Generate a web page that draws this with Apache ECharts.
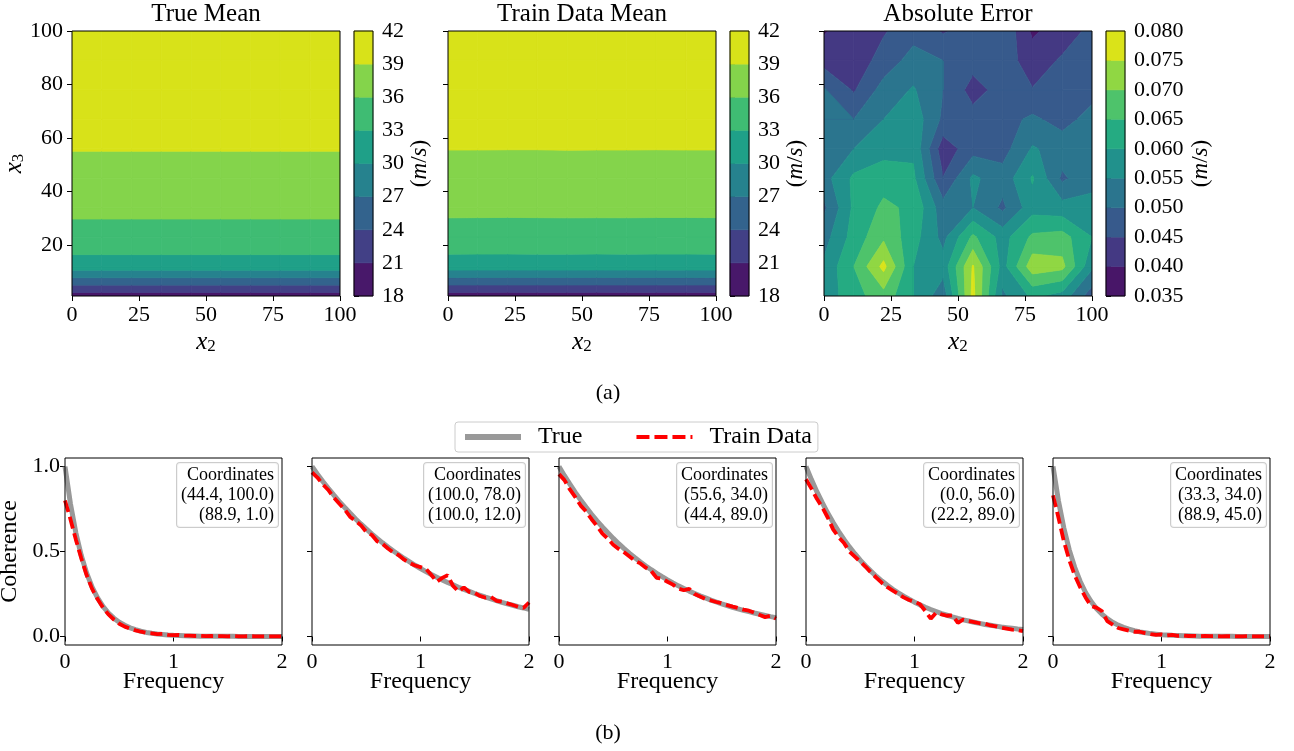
<!DOCTYPE html>
<html>
<head>
<meta charset="utf-8">
<script src="https://cdn.jsdelivr.net/npm/echarts@6/dist/echarts.min.js"></script>
<style>
  html, body { margin: 0; padding: 0; background: #ffffff; }
  #chart { width: 1294px; height: 751px; }
</style>
</head>
<body>
<div id="chart"></div>
<script>
// ---------- grid nodes of the wind field (x2 across, x3 up) ----------
const x2Nodes = [0, 11.11, 22.22, 33.33, 44.44, 55.56, 66.67, 77.78, 88.89, 100];
const x3Nodes = [1, 12, 23, 34, 45, 56, 67, 78, 89, 100];

// true mean wind speed (m/s) at each height, identical across x2
const trueMeanProfile = [19.6, 31.5, 35.2, 36.5, 37.9, 39.1, 39.8, 40.4, 40.9, 41.4];

// mean of the training data, rows = x3 nodes (bottom to top), cols = x2 nodes
const trainMeanGrid = [
  [19.55, 19.54, 19.53, 19.54, 19.55, 19.52, 19.55, 19.54, 19.54, 19.55],
  [31.44, 31.43, 31.42, 31.44, 31.44, 31.42, 31.44, 31.43, 31.43, 31.44],
  [35.15, 35.14, 35.13, 35.14, 35.15, 35.13, 35.14, 35.13, 35.13, 35.14],
  [36.45, 36.44, 36.43, 36.44, 36.45, 36.45, 36.45, 36.44, 36.44, 36.44],
  [37.85, 37.84, 37.84, 37.84, 37.85, 37.84, 37.85, 37.84, 37.85, 37.85],
  [39.05, 39.05, 39.04, 39.04, 39.06, 39.05, 39.05, 39.04, 39.05, 39.05],
  [39.75, 39.75, 39.74, 39.74, 39.75, 39.75, 39.75, 39.74, 39.75, 39.75],
  [40.35, 40.36, 40.35, 40.35, 40.35, 40.36, 40.35, 40.36, 40.35, 40.35],
  [40.86, 40.86, 40.85, 40.85, 40.85, 40.85, 40.85, 40.86, 40.85, 40.85],
  [41.36, 41.36, 41.36, 41.35, 41.36, 41.35, 41.35, 41.36, 41.36, 41.35]
];

// absolute error of the mean (m/s), rows = x3 nodes (bottom to top)
const absErrorGrid = [
  [0.057, 0.063, 0.068, 0.060, 0.052, 0.0765, 0.054, 0.061, 0.058, 0.047],
  [0.056, 0.065, 0.0765, 0.060, 0.057, 0.0755, 0.058, 0.073, 0.0715, 0.056],
  [0.053, 0.062, 0.069, 0.062, 0.0535, 0.066, 0.058, 0.066, 0.067, 0.060],
  [0.049, 0.061, 0.066, 0.064, 0.052, 0.055, 0.049, 0.058, 0.057, 0.056],
  [0.053, 0.061, 0.063, 0.061, 0.0452, 0.056, 0.052, 0.0605, 0.049, 0.054],
  [0.052, 0.055, 0.058, 0.059, 0.042, 0.048, 0.048, 0.0555, 0.053, 0.052],
  [0.050, 0.050, 0.055, 0.058, 0.049, 0.047, 0.048, 0.051, 0.048, 0.052],
  [0.0505, 0.0445, 0.052, 0.0555, 0.050, 0.043, 0.047, 0.0452, 0.048, 0.048],
  [0.043, 0.042, 0.047, 0.052, 0.050, 0.047, 0.047, 0.043, 0.0455, 0.047],
  [0.0395, 0.043, 0.0445, 0.048, 0.0445, 0.047, 0.0495, 0.039, 0.043, 0.046]
];

// contour levels, band colours (viridis) and tick labels
const meanLevels = [18, 21, 24, 27, 30, 33, 36, 39, 42];
const errorLevels = [0.035, 0.040, 0.045, 0.050, 0.055, 0.060, 0.065, 0.070, 0.075, 0.080];
const meanColors = ['#48186a', '#424086', '#33638d', '#26828e', '#1fa088', '#3fbc73', '#84d44b', '#d8e219'];
const errorColors = ['#481668', '#443983', '#375a8c', '#2b758e', '#21918c', '#25ab82', '#4ec36b', '#90d743', '#dae319'];
const x2Ticks = [0, 25, 50, 75, 100];
const x3Ticks = [20, 40, 60, 80, 100];
const mapTitles = ['True Mean', 'Train Data Mean', 'Absolute Error'];

// ---------- coherence vs frequency ----------
const freq = [0, 0.05, 0.1, 0.15, 0.2, 0.25, 0.3, 0.35, 0.4, 0.45, 0.5, 0.55, 0.6, 0.65, 0.7, 0.75, 0.8, 0.85, 0.9, 0.95,
  1.0, 1.05, 1.1, 1.15, 1.2, 1.25, 1.3, 1.35, 1.4, 1.45, 1.5, 1.55, 1.6, 1.65, 1.7, 1.75, 1.8, 1.85, 1.9, 1.95, 2.0];
const freqTicks = [0, 1, 2];
const cohTicks = [0, 0.5, 1.0];

const trueCoh1 = [1.000, 0.781, 0.610, 0.476, 0.372, 0.290, 0.227, 0.177, 0.138, 0.108, 0.084, 0.066, 0.051, 0.040, 0.031, 0.024, 0.019, 0.015, 0.012, 0.009,
  0.007, 0.006, 0.004, 0.003, 0.003, 0.002, 0.002, 0.001, 0.001, 0.001, 0.001, 0.001, 0, 0, 0, 0, 0, 0, 0, 0, 0];
const trainCoh1 = [0.80, 0.69, 0.57, 0.46, 0.36, 0.28, 0.22, 0.17, 0.13, 0.10, 0.075, 0.058, 0.046, 0.036, 0.028, 0.022, 0.019, 0.014, 0.016, 0.010,
  0.008, 0.009, 0.006, 0.005, 0.003, 0.004, 0.002, 0.003, 0.002, 0.002, 0.001, 0.002, 0.001, 0.001, 0.002, 0.001, 0.001, 0.001, 0.001, 0.001, 0.001];

const trueCoh2 = [1.000, 0.955, 0.912, 0.872, 0.833, 0.795, 0.760, 0.726, 0.693, 0.662, 0.633, 0.604, 0.577, 0.551, 0.527, 0.503, 0.481, 0.459, 0.439, 0.419,
  0.400, 0.382, 0.365, 0.349, 0.333, 0.318, 0.304, 0.290, 0.277, 0.265, 0.253, 0.242, 0.231, 0.221, 0.211, 0.201, 0.192, 0.184, 0.175, 0.168, 0.160];
const trainCoh2 = [0.965, 0.935, 0.895, 0.862, 0.818, 0.782, 0.748, 0.705, 0.680, 0.655, 0.615, 0.598, 0.560, 0.545, 0.518, 0.494, 0.478, 0.452, 0.432, 0.418,
  0.408, 0.398, 0.362, 0.322, 0.345, 0.360, 0.298, 0.265, 0.288, 0.262, 0.256, 0.238, 0.228, 0.233, 0.210, 0.205, 0.195, 0.185, 0.175, 0.168, 0.200];

const trueCoh3 = [1.000, 0.946, 0.896, 0.848, 0.803, 0.760, 0.719, 0.680, 0.644, 0.610, 0.577, 0.546, 0.517, 0.489, 0.463, 0.438, 0.415, 0.393, 0.372, 0.352,
  0.333, 0.315, 0.298, 0.282, 0.267, 0.253, 0.239, 0.227, 0.214, 0.203, 0.192, 0.182, 0.172, 0.163, 0.154, 0.146, 0.138, 0.131, 0.124, 0.117, 0.111];
const trainCoh3 = [0.955, 0.920, 0.865, 0.820, 0.770, 0.735, 0.690, 0.650, 0.605, 0.575, 0.540, 0.515, 0.495, 0.470, 0.445, 0.430, 0.405, 0.385, 0.345, 0.340,
  0.322, 0.305, 0.282, 0.272, 0.280, 0.250, 0.235, 0.220, 0.212, 0.203, 0.196, 0.185, 0.176, 0.168, 0.158, 0.152, 0.140, 0.127, 0.114, 0.122, 0.105];

const trueCoh4 = [1.000, 0.923, 0.852, 0.787, 0.726, 0.670, 0.619, 0.571, 0.527, 0.487, 0.449, 0.415, 0.383, 0.353, 0.326, 0.301, 0.278, 0.257, 0.237, 0.219,
  0.202, 0.186, 0.172, 0.159, 0.147, 0.135, 0.125, 0.115, 0.106, 0.098, 0.091, 0.084, 0.077, 0.071, 0.066, 0.061, 0.056, 0.052, 0.048, 0.044, 0.041];
const trainCoh4 = [0.925, 0.870, 0.810, 0.760, 0.700, 0.630, 0.585, 0.550, 0.500, 0.470, 0.440, 0.410, 0.375, 0.345, 0.315, 0.290, 0.270, 0.250, 0.230, 0.215,
  0.205, 0.190, 0.150, 0.105, 0.140, 0.130, 0.122, 0.125, 0.080, 0.100, 0.090, 0.085, 0.078, 0.075, 0.065, 0.060, 0.052, 0.046, 0.040, 0.038, 0.032];

const trueCoh5 = [1.000, 0.799, 0.638, 0.509, 0.407, 0.325, 0.259, 0.207, 0.165, 0.132, 0.105, 0.084, 0.067, 0.054, 0.043, 0.034, 0.027, 0.022, 0.017, 0.014,
  0.011, 0.009, 0.007, 0.006, 0.005, 0.004, 0.003, 0.002, 0.002, 0.002, 0.001, 0.001, 0.001, 0.001, 0, 0, 0, 0, 0, 0, 0];
const trainCoh5 = [0.83, 0.70, 0.56, 0.45, 0.36, 0.29, 0.23, 0.18, 0.17, 0.15, 0.09, 0.07, 0.05, 0.042, 0.034, 0.028, 0.028, 0.020, 0.014, 0.010,
  0.012, 0.006, 0.010, 0.004, 0.006, 0.003, 0.004, 0.002, 0.003, 0.002, 0.002, 0.001, 0.002, 0.001, 0.001, 0.001, 0.002, 0.001, 0.001, 0.001, 0.001];

const trueCoh = [trueCoh1, trueCoh2, trueCoh3, trueCoh4, trueCoh5];
const trainCoh = [trainCoh1, trainCoh2, trainCoh3, trainCoh4, trainCoh5];
const coordLabels = [
  ['(44.4, 100.0)', '(88.9, 1.0)'],
  ['(100.0, 78.0)', '(100.0, 12.0)'],
  ['(55.6, 34.0)', '(44.4, 89.0)'],
  ['(0.0, 56.0)', '(22.2, 89.0)'],
  ['(33.3, 34.0)', '(88.9, 45.0)']
];

// ---------- layout ----------
const FONT = '"Liberation Serif", "Times New Roman", serif';
const MAP_L = [72, 448, 824], MAP_T = 31, MAP_W = 268, MAP_H = 265;
const CB_OFF = 282, CB_W = 19;
const LN_L = [65, 312, 559, 806, 1053], LN_T = 458, LN_W = 217, LN_H = 187;

const trueMeanGrid = x3Nodes.map((_, m) => x2Nodes.map(() => trueMeanProfile[m]));
const mapGrids = [trueMeanGrid, trainMeanGrid, absErrorGrid];
const mapLevels = [meanLevels, meanLevels, errorLevels];
const mapColors = [meanColors, meanColors, errorColors];

// clip a polygon (vertices carry a scalar v) against v >= t or v <= t,
// interpolating linearly along each edge
function clipPoly(poly, t, keepAbove) {
  const out = [];
  for (let i = 0; i < poly.length; i++) {
    const a = poly[i], b = poly[(i + 1) % poly.length];
    const ina = keepAbove ? a.v >= t : a.v <= t;
    const inb = keepAbove ? b.v >= t : b.v <= t;
    if (ina) out.push(a);
    if (ina !== inb) {
      const r = (t - a.v) / (b.v - a.v);
      out.push({ x: a.x + r * (b.x - a.x), y: a.y + r * (b.y - a.y), v: t });
    }
  }
  return out;
}

// filled contour drawn cell by cell
function contourSeries(idx, grid, levels, colors) {
  const cells = [];
  for (let m = 0; m < x3Nodes.length - 1; m++) {
    for (let k = 0; k < x2Nodes.length - 1; k++) cells.push([x2Nodes[k], x3Nodes[m], k, m]);
  }
  return {
    type: 'custom', xAxisIndex: idx, yAxisIndex: idx, clip: true, silent: true, z: 2,
    data: cells, encode: { x: 0, y: 1 },
    renderItem(params, api) {
      const k = api.value(2), m = api.value(3);
      const quad = [
        { x: x2Nodes[k], y: x3Nodes[m], v: grid[m][k] },
        { x: x2Nodes[k + 1], y: x3Nodes[m], v: grid[m][k + 1] },
        { x: x2Nodes[k + 1], y: x3Nodes[m + 1], v: grid[m + 1][k + 1] },
        { x: x2Nodes[k], y: x3Nodes[m + 1], v: grid[m + 1][k] }
      ];
      const children = [];
      for (let b = 0; b < colors.length; b++) {
        let poly = clipPoly(quad, levels[b], true);
        if (poly.length < 3) continue;
        poly = clipPoly(poly, levels[b + 1], false);
        if (poly.length < 3) continue;
        children.push({
          type: 'polygon',
          shape: { points: poly.map(p => api.coord([p.x, p.y])) },
          style: { fill: colors[b], stroke: colors[b], lineWidth: 0.8 }
        });
      }
      return { type: 'group', children };
    }
  };
}

// colour bar: one rectangle per band
function colorbarSeries(idx, levels, colors) {
  return {
    type: 'custom', xAxisIndex: idx, yAxisIndex: idx, silent: true, z: 2,
    data: colors.map((c, b) => [0.5, (levels[b] + levels[b + 1]) / 2, levels[b], levels[b + 1], b]),
    encode: { x: 0, y: 1 },
    renderItem(params, api) {
      const p0 = api.coord([0, api.value(2)]);
      const p1 = api.coord([1, api.value(3)]);
      const c = colors[api.value(4)];
      return {
        type: 'rect',
        shape: { x: p0[0], y: p1[1], width: p1[0] - p0[0], height: p0[1] - p1[1] },
        style: { fill: c, stroke: c, lineWidth: 0.6 }
      };
    }
  };
}

const tick = (custom) => {
  const t = { show: true, inside: false, length: 5, lineStyle: { color: '#000', width: 1 } };
  if (custom) t.customValues = custom;
  return t;
};
const label = (extra) => Object.assign({ color: '#000', fontFamily: FONT, fontSize: 22 }, extra);
const mathRich = {
  i: { fontFamily: FONT, fontStyle: 'italic', fontSize: 25, lineHeight: 25, verticalAlign: 'top', padding: [0, 0, 8, 0], color: '#000' },
  s: { fontFamily: FONT, fontSize: 17, lineHeight: 17, verticalAlign: 'bottom', color: '#000' }
};
const unitRich = {
  p: { fontFamily: FONT, fontSize: 23, color: '#000' },
  i: { fontFamily: FONT, fontSize: 23, fontStyle: 'italic', color: '#000' }
};

const grids = [], xAxes = [], yAxes = [], series = [];
const gridBase = { show: true, borderColor: '#000', borderWidth: 1, backgroundColor: 'transparent', z: 10, containLabel: false, outerBoundsMode: 'none' };

// maps
for (let i = 0; i < 3; i++) {
  grids.push(Object.assign({ left: MAP_L[i], top: MAP_T, width: MAP_W, height: MAP_H }, gridBase));
  xAxes.push({
    gridIndex: i, type: 'value', min: 0, max: 100, interval: 25,
    axisLine: { show: false }, axisTick: tick(), splitLine: { show: false },
    axisLabel: label({ margin: 8 }),
    name: '{i|x}{s|2}', nameLocation: 'middle', nameGap: 34, nameMoveOverlap: false,
    nameTextStyle: { rich: mathRich }
  });
  yAxes.push({
    gridIndex: i, type: 'value', min: 1, max: 100,
    axisLine: { show: false }, axisTick: tick(x3Ticks), splitLine: { show: false },
    axisLabel: label({ show: i === 0, margin: 9, customValues: x3Ticks }),
    name: i === 0 ? '{i|x}{s|3}' : '', nameLocation: 'middle', nameRotate: 90, nameGap: 45, nameMoveOverlap: false,
    nameTextStyle: { rich: mathRich }
  });
  series.push(contourSeries(i, mapGrids[i], mapLevels[i], mapColors[i]));
}

// colour bars
for (let i = 0; i < 3; i++) {
  const g = 3 + i;
  const lv = mapLevels[i];
  grids.push(Object.assign({ left: MAP_L[i] + CB_OFF, top: MAP_T, width: CB_W, height: MAP_H }, gridBase));
  xAxes.push({ gridIndex: g, type: 'value', min: 0, max: 1, show: false });
  yAxes.push({
    gridIndex: g, type: 'value', position: 'right', min: lv[0], max: lv[lv.length - 1],
    axisLine: { show: false }, axisTick: tick(lv), splitLine: { show: false },
    axisLabel: label({ margin: 9, customValues: lv, formatter: v => (i === 2 ? v.toFixed(3) : String(Math.round(v))) }),
    name: '{p|(}{i|m}{p|/}{i|s}{p|)}', nameLocation: 'middle', nameRotate: 90,
    nameGap: i === 2 ? 64 : 35, nameMoveOverlap: false,
    nameTextStyle: { rich: unitRich }
  });
  series.push(colorbarSeries(g, lv, mapColors[i]));
}

// coherence panels
for (let j = 0; j < 5; j++) {
  const g = 6 + j;
  grids.push(Object.assign({ left: LN_L[j], top: LN_T, width: LN_W, height: LN_H }, gridBase));
  xAxes.push({
    gridIndex: g, type: 'value', min: 0, max: 2, interval: 1,
    axisLine: { show: false }, axisTick: tick(), splitLine: { show: false },
    axisLabel: label({ margin: 6 }),
    name: 'Frequency', nameLocation: 'middle', nameGap: 25, nameMoveOverlap: false,
    nameTextStyle: { fontFamily: FONT, fontSize: 24, color: '#000' }
  });
  yAxes.push({
    gridIndex: g, type: 'value', min: -0.05, max: 1.05,
    axisLine: { show: false }, axisTick: tick(cohTicks), splitLine: { show: false },
    axisLabel: label({ show: j === 0, margin: 5, customValues: cohTicks, formatter: v => v.toFixed(1) }),
    name: j === 0 ? 'Coherence' : '', nameLocation: 'middle', nameRotate: 90, nameGap: 43, nameMoveOverlap: false,
    nameTextStyle: { fontFamily: FONT, fontSize: 24, color: '#000' }
  });
  series.push({
    name: 'True', type: 'line', xAxisIndex: g, yAxisIndex: g, symbol: 'none', clip: true, z: 3,
    data: freq.map((f, n) => [f, trueCoh[j][n]]),
    lineStyle: { color: '#999999', width: 5 }, itemStyle: { color: '#999999' }
  });
  series.push({
    name: 'Train Data', type: 'line', xAxisIndex: g, yAxisIndex: g, symbol: 'none', clip: true, z: 4,
    data: freq.map((f, n) => [f, trainCoh[j][n]]),
    lineStyle: { color: '#ff0000', width: 3.8, type: [12, 5] }, itemStyle: { color: '#ff0000' }
  });
}

// free text: panel titles, sub-figure tags, coordinate boxes
const graphics = [];
mapTitles.forEach((t, i) => graphics.push({
  type: 'text', x: MAP_L[i] + MAP_W / 2, y: 14, z: 100,
  style: { text: t, fontFamily: FONT, fontSize: 25, fill: '#000', align: 'center', verticalAlign: 'middle' }
}));
graphics.push({ type: 'text', x: 608, y: 393, z: 100,
  style: { text: '(a)', fontFamily: FONT, fontSize: 22, fill: '#000', align: 'center', verticalAlign: 'middle' } });
graphics.push({ type: 'text', x: 608, y: 733, z: 100,
  style: { text: '(b)', fontFamily: FONT, fontSize: 22, fill: '#000', align: 'center', verticalAlign: 'middle' } });
coordLabels.forEach((c, j) => graphics.push({
  type: 'text', x: LN_L[j] + LN_W - 4, y: LN_T + 5, z: 100,
  style: {
    text: ['Coordinates', c[0], c[1]].join('\n'),
    fontFamily: FONT, fontSize: 18, lineHeight: 20, fill: '#000', align: 'right', verticalAlign: 'top',
    backgroundColor: 'rgba(255,255,255,0.8)', borderColor: '#cccccc', borderWidth: 1, borderRadius: 3,
    padding: [2, 4, 2, 4]
  }
}));

const chart = echarts.init(document.getElementById('chart'));
chart.setOption({
  animation: false,
  backgroundColor: '#ffffff',
  textStyle: { fontFamily: FONT, color: '#000' },
  grid: grids,
  xAxis: xAxes,
  yAxis: yAxes,
  series: series,
  legend: {
    left: 455, top: 422, orient: 'horizontal',
    itemWidth: 56, itemHeight: 14, itemGap: 52,
    padding: [3, 6, 3, 7],
    borderColor: '#cccccc', borderWidth: 1, borderRadius: 3, backgroundColor: 'rgba(255,255,255,0.8)',
    textStyle: { fontFamily: FONT, fontSize: 24, color: '#000', padding: [0, 0, 0, 12] },
    selectedMode: false,
    data: [
      { name: 'True', lineStyle: { color: '#999999', width: 6 }, itemStyle: { opacity: 0 } },
      { name: 'Train Data', lineStyle: { color: '#ff0000', width: 4, type: [13, 5] }, itemStyle: { opacity: 0 } }
    ]
  },
  graphic: graphics
});
</script>
</body>
</html>
